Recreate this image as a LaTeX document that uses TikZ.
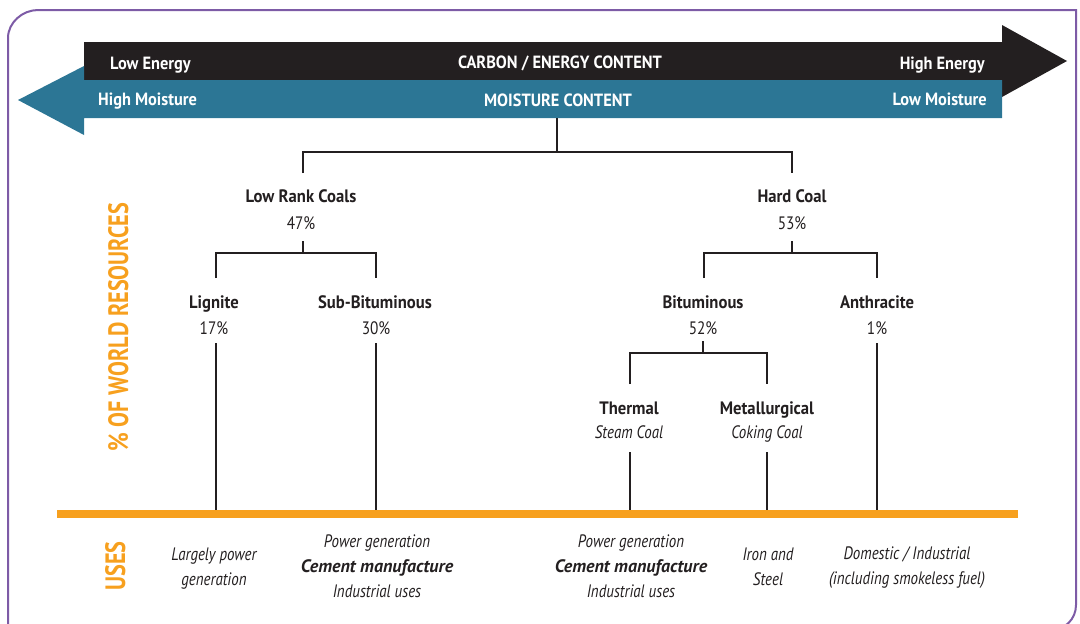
\documentclass[tikz,border=0pt]{standalone}
\usepackage{fontspec}
\setmainfont[FakeStretch=0.85,
  BoldFeatures={FakeStretch=0.925},
  ItalicFeatures={FakeStretch=0.83},
  BoldItalicFeatures={FakeStretch=1.0}]{PT Sans}
\newfontfamily\axisfont[FakeStretch=0.795]{PT Sans}
\definecolor{coalblack}{HTML}{231F20}
\definecolor{coalteal}{HTML}{2C7695}
\definecolor{coalorange}{HTML}{F7A01E}
\definecolor{coalpurple}{HTML}{7D5BA6}
\tikzset{
  conn/.style={line width=2pt, draw=coalblack},
  lbl/.style={inner sep=0pt, anchor=base, text=coalblack, font=\fontsize{18}{20}\selectfont},
  lblb/.style={lbl, font=\fontsize{18}{20}\selectfont\bfseries},
  lbli/.style={lbl, font=\fontsize{18}{20}\selectfont\itshape},
  lblbi/.style={lbl, font=\fontsize{18}{20}\selectfont\bfseries\itshape},
  bartxt/.style={inner sep=0pt, text=white, font=\fontsize{17.7}{20}\selectfont\bfseries},
  axistxt/.style={inner sep=0pt, anchor=base, rotate=90, text=coalorange, font=\axisfont\fontsize{28}{30}\selectfont\bfseries}
}
\begin{document}
\begin{tikzpicture}[x=1pt,y=-1pt]
\useasboundingbox (0,0) rectangle (1080,624);
% frame
\draw[coalpurple, line width=2pt] (8,660) -- (8,38) .. controls (8,22.5) and (22.5,10) .. (38,10) -- (1076,10) -- (1076,605) .. controls (1076,619) and (1065,630) .. (1051,630) -- (8,630);
% arrows
\fill[coalblack] (84,42) -- (1002,42) -- (1002,25) -- (1067,61) -- (1002,97) -- (1002,80) -- (84,80) -- cycle;
\fill[coalteal] (1002,80) -- (1002,118) -- (84,118) -- (84,135) -- (18,100) -- (84,66) -- (84,80) -- cycle;
\node[bartxt, anchor=base west] (lowE) at (110,69) {Low Energy};
\node[bartxt, anchor=base] (carbon) at (560,68) {CARBON / ENERGY CONTENT};
\node[bartxt, anchor=base east] (highE) at (985,69) {High Energy};
\node[bartxt, anchor=base west] (highM) at (98,105) {High Moisture};
\node[bartxt, anchor=base] (moist) at (558,106) {MOISTURE CONTENT};
\node[bartxt, anchor=base east] (lowM) at (987,105) {Low Moisture};
% axis labels
\node[axistxt] (world) at (128,327) {\% OF WORLD RESOURCES};
\node[axistxt] (uses) at (125,566) {USES};
% orange bar
\fill[coalorange] (57,510) rectangle (1018,518);
% tree labels
\node[lblb] (lrc) at (301,202) {Low Rank Coals};
\node[lbl] (lrcp) at (301,229) {47\%};
\node[lblb] (hc) at (792,202) {Hard Coal};
\node[lbl] (hcp) at (792,229) {53\%};
\node[lblb] (lig) at (214,308) {Lignite};
\node[lbl] (ligp) at (214,334) {17\%};
\node[lblb] (sub) at (375,308) {Sub-Bituminous};
\node[lbl] (subp) at (376,334) {30\%};
\node[lblb] (bit) at (703,308) {Bituminous};
\node[lbl] (bitp) at (703,334) {52\%};
\node[lblb] (ant) at (877,308) {Anthracite};
\node[lbl] (antp) at (877,334) {1\%};
\node[lblb] (the) at (629,414) {Thermal};
\node[lbli] (thes) at (629,438) {Steam Coal};
\node[lblb] (met) at (767,414) {Metallurgical};
\node[lbli] (mets) at (767,438) {Coking Coal};
% uses labels
\node[lbli] (u1a) at (214,560) {Largely power};
\node[lbli] (u1b) at (214,585) {generation};
\node[lbli] (u2a) at (377,547) {Power generation};
\node[lblbi] (u2b) at (377,572) {Cement manufacture};
\node[lbli] (u2c) at (377,597) {Industrial uses};
\node[lbli] (u3a) at (631,547) {Power generation};
\node[lblbi] (u3b) at (631,572) {Cement manufacture};
\node[lbli] (u3c) at (631,597) {Industrial uses};
\node[lbli] (u4a) at (768,560) {Iron and};
\node[lbli] (u4b) at (768,585) {Steel};
\node[lbli] (u5a) at (907,559) {Domestic / Industrial};
\node[lbli] (u5b) at (907,584) {(including smokeless fuel)};
% connector points
\coordinate (t0) at (557,118);
\coordinate (t1) at (557,152);
\coordinate (lrtop) at (303,173);
\coordinate (hctop) at (792,173);
\coordinate (lr1) at (303,241);
\coordinate (lr2) at (303,253);
\coordinate (ligtop) at (216,278);
\coordinate (subtop) at (376,278);
\coordinate (hc1) at (792,241);
\coordinate (hc2) at (792,253);
\coordinate (bittop) at (704,278);
\coordinate (anttop) at (877,278);
\coordinate (bt1) at (703,341);
\coordinate (bt2) at (703,353);
\coordinate (thetop) at (630,384);
\coordinate (mettop) at (767,384);
\coordinate (ligdn) at (216,343);
\coordinate (subdn) at (376,343);
\coordinate (antdn) at (877,343);
\coordinate (thedn) at (630,452);
\coordinate (metdn) at (767,452);
\coordinate (ligbar) at (216,510);
\coordinate (subbar) at (376,510);
\coordinate (thebar) at (630,510);
\coordinate (metbar) at (767,510);
\coordinate (antbar) at (877,510);
% connectors
\draw[conn] (t0) -- (t1);
\draw[conn] (lrtop) |- (t1) -| (hctop);
\draw[conn] (lr1) -- (lr2);
\draw[conn] (ligtop) |- (lr2) -| (subtop);
\draw[conn] (hc1) -- (hc2);
\draw[conn] (bittop) |- (hc2) -| (anttop);
\draw[conn] (bt1) -- (bt2);
\draw[conn] (thetop) |- (bt2) -| (mettop);
\draw[conn] (ligdn) -- (ligbar);
\draw[conn] (subdn) -- (subbar);
\draw[conn] (antdn) -- (antbar);
\draw[conn] (thedn) -- (thebar);
\draw[conn] (metdn) -- (metbar);
\end{tikzpicture}
\end{document}
